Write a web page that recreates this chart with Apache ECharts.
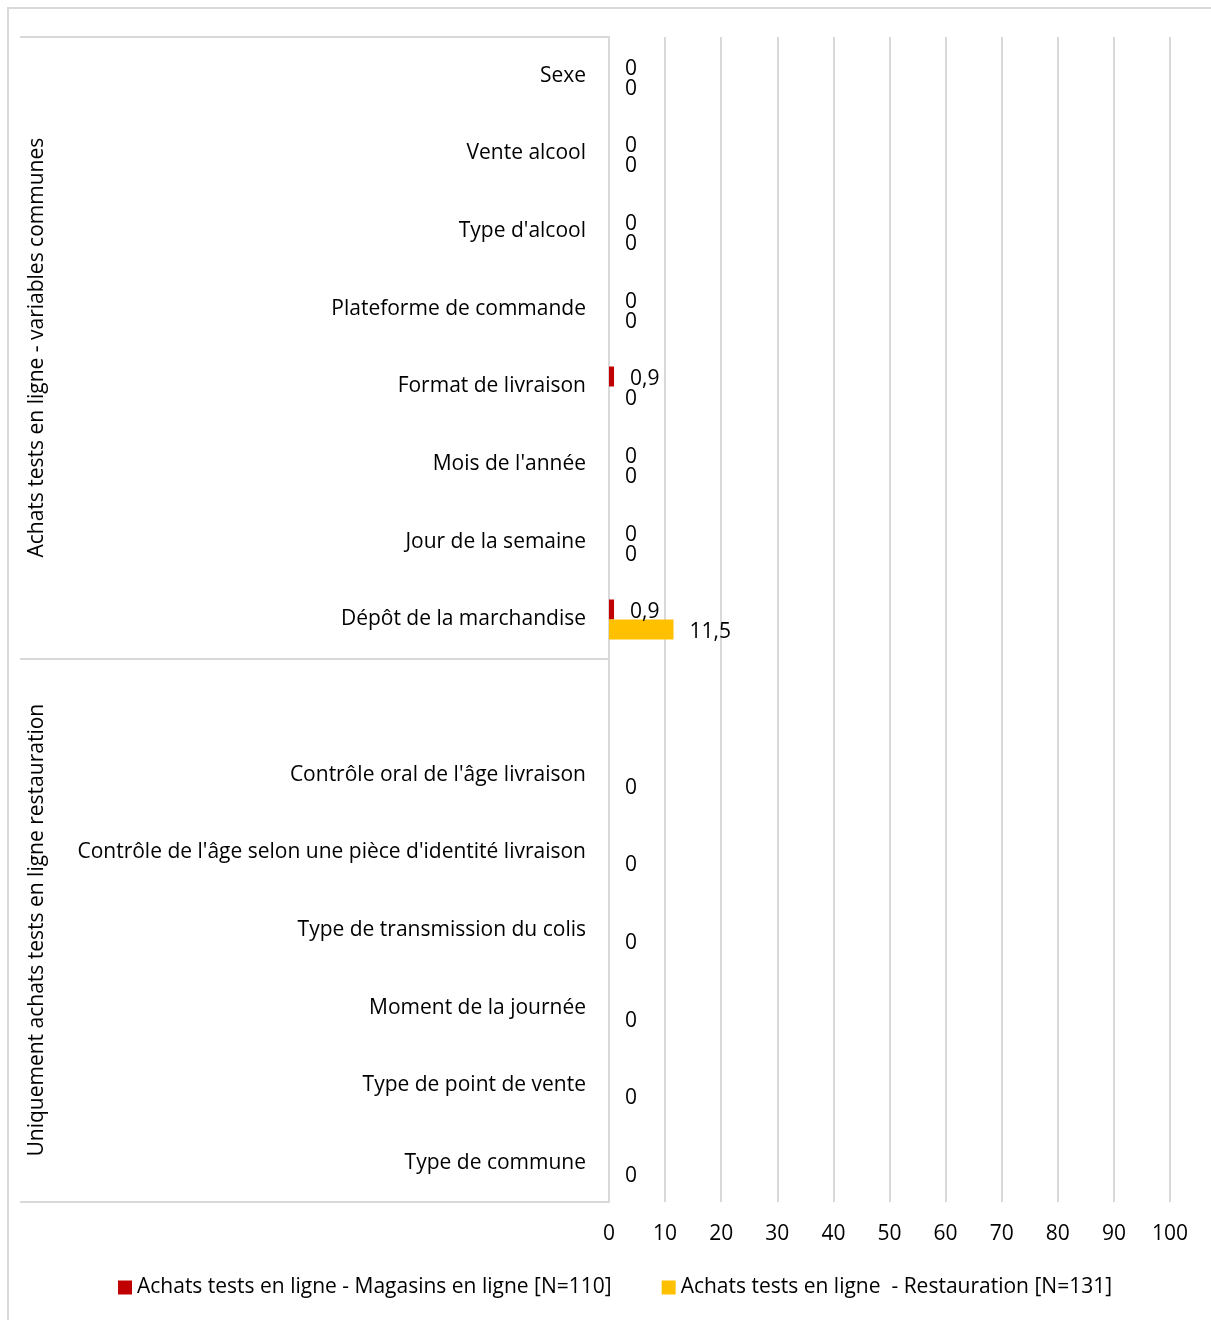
<!DOCTYPE html>
<html><head><meta charset="utf-8">
<script src="https://cdn.jsdelivr.net/npm/echarts@6/dist/echarts.min.js"></script>
<style>
html,body{margin:0;padding:0;background:#fff;overflow:hidden;}
#frame{position:absolute;left:7px;top:7px;width:1230px;height:1340px;border:2px solid #d9d9d9;box-sizing:border-box;}
#chart{position:absolute;left:0;top:0;width:1211px;height:1320px;}
</style></head><body>
<div id="frame"></div><div id="chart"></div>
<script>
const categories = [
  'Sexe','Vente alcool',"Type d'alcool",'Plateforme de commande','Format de livraison',
  "Mois de l'année",'Jour de la semaine','Dépôt de la marchandise',
  '',
  "Contrôle oral de l'âge livraison","Contrôle de l'âge selon une pièce d'identité livraison",
  'Type de transmission du colis','Moment de la journée','Type de point de vente','Type de commune'
];
const groupNames = ['Achats tests en ligne - variables communes','Uniquement achats tests en ligne restauration'];
const groupSizes = [8, 7];
const seriesNames = ['Achats tests en ligne - Magasins en ligne [N=110]','Achats tests en ligne  - Restauration [N=131]'];
const magasins = [0,0,0,0,0.9,0,0,0.9,null,null,null,null,null,null,null];
const restauration = [0,0,0,0,0,0,0,11.5,null,0,0,0,0,0,0];
const xMin = 0, xMax = 100, xInterval = 10;

const FONT = 'Open Sans';
const FS = 21;
const grey = '#d9d9d9';

const bounds = [0];
groupSizes.forEach(s => bounds.push(bounds[bounds.length-1] + s));
const centers = groupSizes.map((s,i) => bounds[i] + s/2);

const fmt = v => (v == null ? '' : String(v).replace('.', ','));

const chart = echarts.init(document.getElementById('chart'), null, {renderer:'canvas'});
chart.setOption({
  animation:false,
  textStyle:{fontFamily:FONT},
  grid:{left:609, right:41, top:37, bottom:118, containLabel:false},
  legend:{
    bottom:17, left:113, itemWidth:14, itemHeight:14, itemGap:50, icon:'rect',
    textStyle:{fontFamily:FONT, fontSize:FS, color:'#000'},
    data:seriesNames
  },
  xAxis:{
    type:'value', min:xMin, max:xMax, interval:xInterval,
    axisLine:{show:false}, axisTick:{show:false},
    axisLabel:{fontFamily:FONT, fontSize:FS, color:'#000', margin:22},
    splitLine:{show:true, lineStyle:{color:grey, width:2}}
  },
  yAxis:[{
    type:'category', data:categories, inverse:true,
    axisLine:{show:true, lineStyle:{color:grey, width:2}},
    axisTick:{show:false},
    axisLabel:{fontFamily:FONT, fontSize:FS, color:'#000', margin:23, padding:[4,0,0,0]}
  },{
    type:'value', min:bounds[0], max:bounds[bounds.length-1], inverse:true, position:'left', offset:0,
    axisLine:{show:false}, splitLine:{show:false},
    axisTick:{show:true, customValues:bounds, length:589, lineStyle:{color:grey, width:2}},
    axisLabel:{
      show:true, customValues:centers, rotate:90, margin:561,
      fontFamily:FONT, fontSize:FS, color:'#000',
      formatter:(v)=>{ const i = centers.indexOf(v); return i>=0 ? groupNames[i] : ''; }
    }
  }],
  series:[{
    name:seriesNames[0], type:'bar', data:magasins, barWidth:20, barGap:'0%',
    itemStyle:{color:'#C00000'},
    label:{show:true, position:'right', distance:16, offset:[0,3], fontFamily:FONT, fontSize:FS, color:'#000',
      formatter:p=>fmt(p.value)}
  },{
    name:seriesNames[1], type:'bar', data:restauration, barWidth:20, barGap:'0%',
    itemStyle:{color:'#FFC000'},
    label:{show:true, position:'right', distance:16, offset:[0,3], fontFamily:FONT, fontSize:FS, color:'#000',
      formatter:p=>fmt(p.value)}
  }]
});
</script>
</body></html>
